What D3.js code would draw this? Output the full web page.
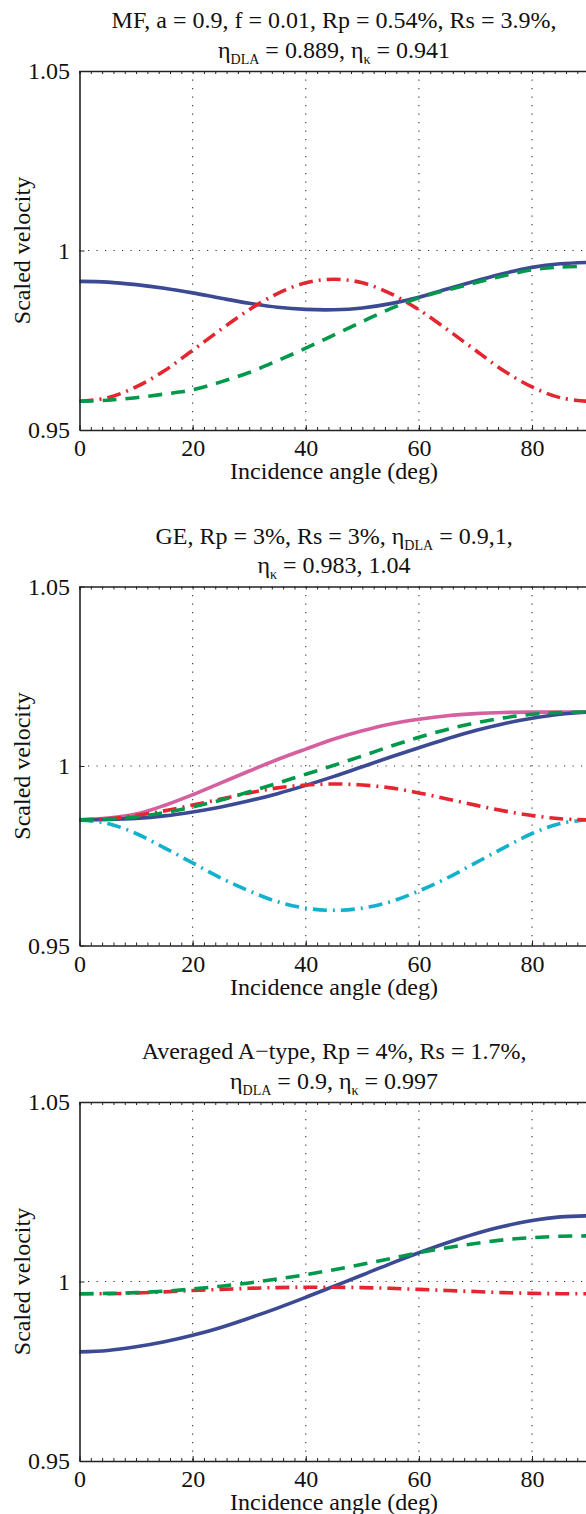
<!DOCTYPE html>
<html>
<head>
<meta charset="utf-8">
<script src="https://cdn.jsdelivr.net/npm/d3@7"></script>
<style>
  html, body { margin: 0; padding: 0; background: #fff; }
  svg { display: block; }
  text { font-family: "Liberation Serif", "Times New Roman", serif; fill: #111; }
</style>
</head>
<body>
<svg id="chart" width="586" height="1514"></svg>
<script>
const angles = [0, 5, 10, 15, 20, 25, 30, 35, 40, 45, 50, 55, 60, 65, 70, 75, 80, 85, 90];

// panel 1 : MF
const mfBlue  = [0.9914, 0.9912, 0.9905, 0.9895, 0.9882, 0.9867, 0.9853, 0.9842, 0.9836, 0.9835, 0.9840, 0.9852, 0.9870, 0.9893, 0.9915, 0.9936, 0.9953, 0.9963, 0.9967];
const mfRed   = [0.9580, 0.9590, 0.9620, 0.9665, 0.9722, 0.9780, 0.9835, 0.9880, 0.9910, 0.9920, 0.9910, 0.9880, 0.9835, 0.9780, 0.9722, 0.9665, 0.9620, 0.9590, 0.9580];
const mfGreen = [0.9580, 0.9583, 0.9590, 0.9600, 0.9612, 0.9634, 0.9660, 0.9693, 0.9728, 0.9765, 0.9802, 0.9838, 0.9868, 0.9890, 0.9910, 0.9930, 0.9946, 0.9954, 0.9956];

// panel 2 : GE
const gePink  = [0.9850, 0.9855, 0.9866, 0.9890, 0.9920, 0.9953, 0.9986, 1.0018, 1.0047, 1.0075, 1.0098, 1.0117, 1.0130, 1.0140, 1.0146, 1.0149, 1.0150, 1.0150, 1.0150];
const geBlue  = [0.9850, 0.9851, 0.9854, 0.9861, 0.9872, 0.9886, 0.9903, 0.9923, 0.9946, 0.9971, 0.9998, 1.0025, 1.0051, 1.0076, 1.0099, 1.0118, 1.0133, 1.0144, 1.0150];
const geRed   = [0.9850, 0.9853, 0.9862, 0.9875, 0.9891, 0.9908, 0.9925, 0.9939, 0.9947, 0.9950, 0.9947, 0.9939, 0.9925, 0.9908, 0.9891, 0.9875, 0.9862, 0.9853, 0.9850];
const geCyan  = [0.9850, 0.9840, 0.9812, 0.9772, 0.9730, 0.9688, 0.9652, 0.9622, 0.9604, 0.9598, 0.9604, 0.9622, 0.9652, 0.9688, 0.9730, 0.9772, 0.9812, 0.9840, 0.9850];
const geGreen = [0.9850, 0.9852, 0.9858, 0.9870, 0.9886, 0.9905, 0.9928, 0.9952, 0.9977, 1.0002, 1.0028, 1.0055, 1.0080, 1.0102, 1.0120, 1.0134, 1.0144, 1.0149, 1.0150];

// panel 3 : averaged A-type
const avBlue  = [0.9804, 0.9808, 0.9818, 0.9832, 0.9850, 0.9872, 0.9898, 0.9926, 0.9956, 0.9987, 1.0018, 1.0050, 1.0080, 1.0108, 1.0133, 1.0154, 1.0170, 1.0180, 1.0183];
const avRed   = [0.9966, 0.9966, 0.9968, 0.9971, 0.9975, 0.9978, 0.9981, 0.9983, 0.9984, 0.9984, 0.9983, 0.9981, 0.9978, 0.9975, 0.9972, 0.9969, 0.9967, 0.9966, 0.9966];
const avGreen = [0.9966, 0.9967, 0.9969, 0.9973, 0.9979, 0.9987, 0.9996, 1.0007, 1.0019, 1.0033, 1.0048, 1.0064, 1.0080, 1.0094, 1.0106, 1.0116, 1.0122, 1.0126, 1.0127];

const xTicks = [0, 20, 40, 60, 80];
const yTicks = [0.95, 1, 1.05];

// line styles
const BLUE = "#3b4a92", GREEN = "#00994c", RED = "#e3262f", CYAN = "#14b1cc", PINK = "#d4609f";
const SOLID = null, DASH = "14,9", DASHDOT = "14,6,2,6";

const panels = [
  {
    title1: "MF, a = 0.9, f = 0.01, Rp = 0.54%, Rs = 3.9%,",
    title2: [["η"], ["DLA", 1], [" = 0.889, η"], ["κ", 1], [" = 0.941"]],
    series: [
      { v: mfBlue, c: BLUE, d: SOLID },
      { v: mfRed, c: RED, d: DASHDOT },
      { v: mfGreen, c: GREEN, d: DASH }
    ]
  },
  {
    title1: "GE, Rp = 3%, Rs = 3%, η",
    title1b: [["DLA", 1], [" = 0.9,1,"]],
    title2: [["η"], ["κ", 1], [" = 0.983, 1.04"]],
    series: [
      { v: gePink, c: PINK, d: SOLID },
      { v: geBlue, c: BLUE, d: SOLID },
      { v: geCyan, c: CYAN, d: DASHDOT },
      { v: geRed, c: RED, d: DASHDOT },
      { v: geGreen, c: GREEN, d: DASH }
    ]
  },
  {
    title1: "Averaged A−type, Rp = 4%, Rs = 1.7%,",
    title2: [["η"], ["DLA", 1], [" = 0.9, η"], ["κ", 1], [" = 0.997"]],
    series: [
      { v: avBlue, c: BLUE, d: SOLID },
      { v: avRed, c: RED, d: DASHDOT },
      { v: avGreen, c: GREEN, d: DASH }
    ]
  }
];

const FS = 24;      // main font size
const SUB = 14;     // subscript size
const svg = d3.select("#chart");
const panelStep = 515.5;
const x = d3.scaleLinear().domain([0, 90]).range([79.5, 588.6]);
const cx = (x.range()[0] + x.range()[1]) / 2;

// writes text pieces, subscripts shifted down and smaller
function writeParts(textSel, parts) {
  let down = false;
  parts.forEach(([t, sub]) => {
    const ts = textSel.append("tspan").text(t);
    if (sub && !down) { ts.attr("dy", 6).attr("font-size", SUB); down = true; }
    else if (sub) { ts.attr("font-size", SUB); }
    else if (down) { ts.attr("dy", -6); down = false; }
  });
}

panels.forEach((p, i) => {
  const off = i * panelStep;
  const top = 71 + off, bottom = 430 + off;
  const y = d3.scaleLinear().domain([0.95, 1.05]).range([bottom, top]);
  const g = svg.append("g");

  // titles
  const t1 = g.append("text").attr("x", cx).attr("y", 28 + off)
    .attr("text-anchor", "middle").attr("font-size", FS);
  t1.append("tspan").text(p.title1);
  if (p.title1b) writeParts(t1, p.title1b);
  const t2 = g.append("text").attr("x", cx).attr("y", 57.5 + off)
    .attr("text-anchor", "middle").attr("font-size", FS);
  writeParts(t2, p.title2);

  // dotted grid
  g.append("g").selectAll("line").data(xTicks.filter(d => d > 0)).join("line")
    .attr("x1", d => x(d)).attr("x2", d => x(d))
    .attr("y1", top).attr("y2", bottom)
    .attr("stroke", "#333").attr("stroke-width", 1.1).attr("stroke-dasharray", "1.2,7.3");
  g.append("g").selectAll("line").data(yTicks.filter(d => d > 0.95 && d < 1.05)).join("line")
    .attr("x1", x.range()[0]).attr("x2", x.range()[1])
    .attr("y1", d => y(d)).attr("y2", d => y(d))
    .attr("stroke", "#333").attr("stroke-width", 1.1).attr("stroke-dasharray", "1.2,7.3");

  // curves
  const line = d3.line()
    .x((d, k) => x(angles[k]))
    .y(d => y(d))
    .curve(d3.curveCatmullRom.alpha(0.5));
  p.series.forEach(s => {
    g.append("path").datum(s.v)
      .attr("d", line)
      .attr("fill", "none")
      .attr("stroke", s.c)
      .attr("stroke-width", 3.6)
      .attr("stroke-dasharray", s.d);
  });

  // axes
  const styleAxis = a => {
    a.selectAll(".domain").attr("stroke", "#222").attr("stroke-width", 1.6);
    a.selectAll(".tick line").attr("stroke", "#222").attr("stroke-width", 1);
    a.selectAll("text").attr("font-size", FS).attr("fill", "#111")
      .attr("font-family", "Liberation Serif, serif");
  };

  // minor ticks every 2 deg on bottom and top
  const minor = d3.range(0, 91, 2);
  g.append("g").attr("transform", `translate(0,${bottom})`)
    .call(d3.axisBottom(x).tickValues(minor).tickSize(-3).tickFormat(""))
    .call(a => a.select(".domain").remove())
    .call(styleAxis);
  g.append("g").attr("transform", `translate(0,${top})`)
    .call(d3.axisTop(x).tickValues(minor).tickSize(-3).tickFormat(""))
    .call(styleAxis);

  g.append("g").attr("transform", `translate(0,${bottom})`)
    .call(d3.axisBottom(x).tickValues(xTicks).tickSizeInner(-5).tickSizeOuter(0).tickPadding(9))
    .call(styleAxis);
  g.append("g").attr("transform", `translate(${x.range()[0]},0)`)
    .call(d3.axisLeft(y).tickValues(yTicks).tickSizeInner(-5).tickSizeOuter(0).tickPadding(9.5)
      .tickFormat(d => String(d)))
    .call(styleAxis);

  // axis titles
  g.append("text").attr("x", cx).attr("y", bottom + 49)
    .attr("text-anchor", "middle").attr("font-size", FS)
    .text("Incidence angle (deg)");
  g.append("text")
    .attr("transform", `translate(30,${(top + bottom) / 2}) rotate(-90)`)
    .attr("text-anchor", "middle").attr("font-size", FS)
    .text("Scaled velocity");
});
</script>
</body>
</html>
